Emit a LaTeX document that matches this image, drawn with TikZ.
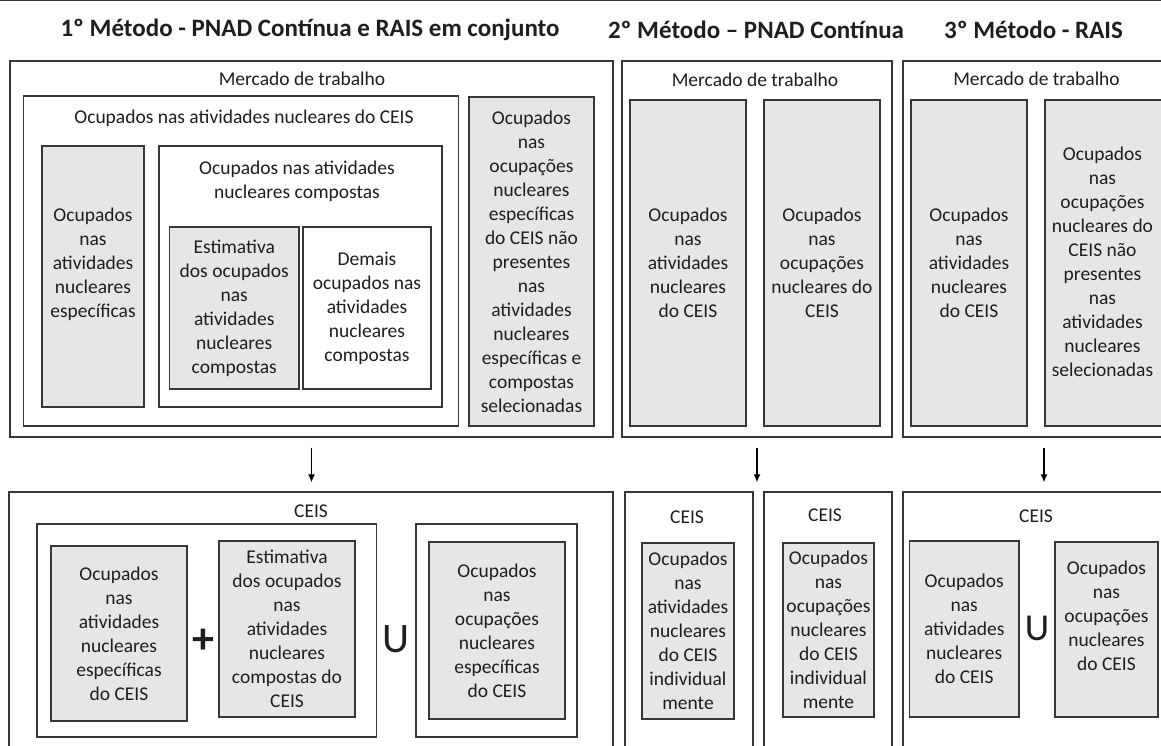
\documentclass[tikz,border=0pt]{standalone}
\usepackage{fontspec}
\setmainfont{Carlito}
\usetikzlibrary{arrows.meta}
\definecolor{fillg}{RGB}{230,230,230}
\definecolor{linec}{RGB}{55,55,55}
\definecolor{txtc}{RGB}{30,30,30}
\tikzset{
  box/.style={draw=linec, line width=1.4pt, rectangle, inner sep=0pt, align=center,
     font=\fontsize{19.5}{24}\selectfont, text=txtc},
  gbox/.style={box, fill=fillg},
  wbox/.style={box, fill=white},
  lbl/.style={inner sep=0pt, align=center, font=\fontsize{19.5}{24}\selectfont, text=txtc},
  head/.style={inner sep=0pt, font=\bfseries\fontsize{25}{30}\selectfont, text=txtc},
  sym/.style={inner sep=0pt, text=txtc},
  arr/.style={draw=black, line width=1.2pt, -{Latex[length=8pt,width=7pt]}}
}
\begin{document}
\begin{tikzpicture}[x=1pt,y=-1pt]
\useasboundingbox (0,0) rectangle (1161,745);
\clip (0,0) rectangle (1161,745);
\fill[white] (0,0) rectangle (1161,745);
\draw[linec, line width=1.2pt] (0,0.6) -- (1161,0.6);

% headings
\node[head] (h1) at (310,30) {1º Método - PNAD Contínua e RAIS em conjunto};
\node[head] (h2) at (756,30) {2º Método – PNAD Contínua};
\node[head] (h3) at (1033.5,30) {3º Método - RAIS};

% ---------- top row, method 1
\node[wbox, minimum width=603, minimum height=376] (m1top) at (311.5,249) {};
\node[lbl] (m1mt) at (302,79) {Mercado de trabalho};
\node[wbox, minimum width=434.8, minimum height=330] (m1nuc) at (241.1,261) {};
\node[lbl] (m1nt) at (244,118) {Ocupados nas atividades nucleares do CEIS};
\node[gbox, minimum width=102, minimum height=261] (m1esp) at (93,276.5) {};
\node[lbl] (m1espt) at (93,264) {Ocupados\\nas\\atividades\\nucleares\\específicas};
\node[wbox, minimum width=283, minimum height=261] (m1comp) at (300.5,276.5) {};
\node[lbl] (m1compt) at (297,181) {Ocupados nas atividades\\nucleares compostas};
\node[gbox, minimum width=129.5, minimum height=162] (m1est) at (234.25,308) {Estimativa\\dos ocupados\\nas\\atividades\\nucleares\\compostas};
\node[wbox, minimum width=128, minimum height=162] (m1dem) at (367,308) {Demais\\ocupados nas\\atividades\\nucleares\\compostas};
\node[gbox, minimum width=125, minimum height=329] (m1ocu) at (531.5,261.5) {Ocupados\\nas\\ocupações\\nucleares\\específicas\\do CEIS não\\presentes\\nas\\atividades\\nucleares\\específicas e\\compostas\\selecionadas};

% ---------- top row, method 2
\node[wbox, minimum width=270, minimum height=376] (m2top) at (757,249) {};
\node[lbl] (m2mt) at (755,80) {Mercado de trabalho};
\node[gbox, minimum width=116, minimum height=326] (m2a) at (688,263) {Ocupados\\nas\\atividades\\nucleares\\do CEIS};
\node[gbox, minimum width=116, minimum height=326] (m2b) at (822,263) {Ocupados\\nas\\ocupações\\nucleares do\\CEIS};

% ---------- top row, method 3
\node[wbox, minimum width=282, minimum height=376] (m3top) at (1044,249) {};
\node[lbl] (m3mt) at (1036.5,79) {Mercado de trabalho};
\node[gbox, minimum width=116, minimum height=326] (m3a) at (969,263) {Ocupados\\nas\\atividades\\nucleares\\do CEIS};
\node[gbox, minimum width=118, minimum height=326] (m3b) at (1104,263) {};
\node[lbl] (m3bt) at (1102.5,262) {Ocupados\\nas\\ocupações\\nucleares do\\CEIS não\\presentes\\nas\\atividades\\nucleares\\selecionadas};

% ---------- bottom row, method 1
\node[wbox, minimum width=604, minimum height=268] (m1bot) at (311,626) {};
\node[lbl] (m1bt) at (311,511) {CEIS};
\node[wbox, minimum width=339.6, minimum height=213] (m1ba) at (206.8,630.5) {};
\node[gbox, minimum width=136, minimum height=175] (m1g1) at (119,633.5) {Ocupados\\nas\\atividades\\nucleares\\específicas\\do CEIS};
\node[sym, font=\bfseries\fontsize{44}{44}\selectfont] (plus) at (203,641) {+};
\node[gbox, minimum width=136, minimum height=176] (m1g2) at (287,629) {Estimativa\\dos ocupados\\nas\\atividades\\nucleares\\compostas do\\CEIS};
\node[sym, font=\fontsize{42}{42}\selectfont] (u1) at (396,639) {U};
\node[wbox, minimum width=161, minimum height=213] (m1bb) at (496.5,630.5) {};
\node[gbox, minimum width=136, minimum height=177] (m1g3) at (497,630.5) {Ocupados\\nas\\ocupações\\nucleares\\específicas\\do CEIS};

% ---------- bottom row, method 2
\node[wbox, minimum width=128, minimum height=268] (m2ba) at (689,626) {};
\node[lbl] (m2bat) at (687,517) {CEIS};
\node[gbox, minimum width=92, minimum height=176] (m2g1) at (688,631) {Ocupados\\nas\\atividades\\nucleares\\do CEIS\\individual\\mente};
\node[wbox, minimum width=128, minimum height=268] (m2bb) at (828,626) {};
\node[lbl] (m2bbt) at (825,515) {CEIS};
\node[gbox, minimum width=91, minimum height=174] (m2g2) at (828.5,630) {Ocupados\\nas\\ocupações\\nucleares\\do CEIS\\individual\\mente};

% ---------- bottom row, method 3
\node[wbox, minimum width=282, minimum height=268] (m3bot) at (1044,626) {};
\node[lbl] (m3bt) at (1036,516) {CEIS};
\node[gbox, minimum width=109.5, minimum height=176] (m3g1) at (964.25,629) {Ocupados\\nas\\atividades\\nucleares\\do CEIS};
\node[sym, font=\fontsize{38}{38}\selectfont] (u2) at (1037,628) {U};
\node[gbox, minimum width=103, minimum height=175] (m3g2) at (1106.5,629.5) {};
\node[lbl] (m3g2t) at (1106.5,616) {Ocupados\\nas\\ocupações\\nucleares\\do CEIS};

% ---------- arrows
\draw[arr, shorten <=10pt, shorten >=9pt] (m1top.south) -- (m1top.south |- m1bot.north);
\draw[arr, shorten <=10pt, shorten >=9pt] (m2top.south) -- (m2top.south |- m2ba.north);
\draw[arr, shorten <=10pt, shorten >=9pt] (m3top.south) -- (m3top.south |- m3bot.north);
\end{tikzpicture}
\end{document}
